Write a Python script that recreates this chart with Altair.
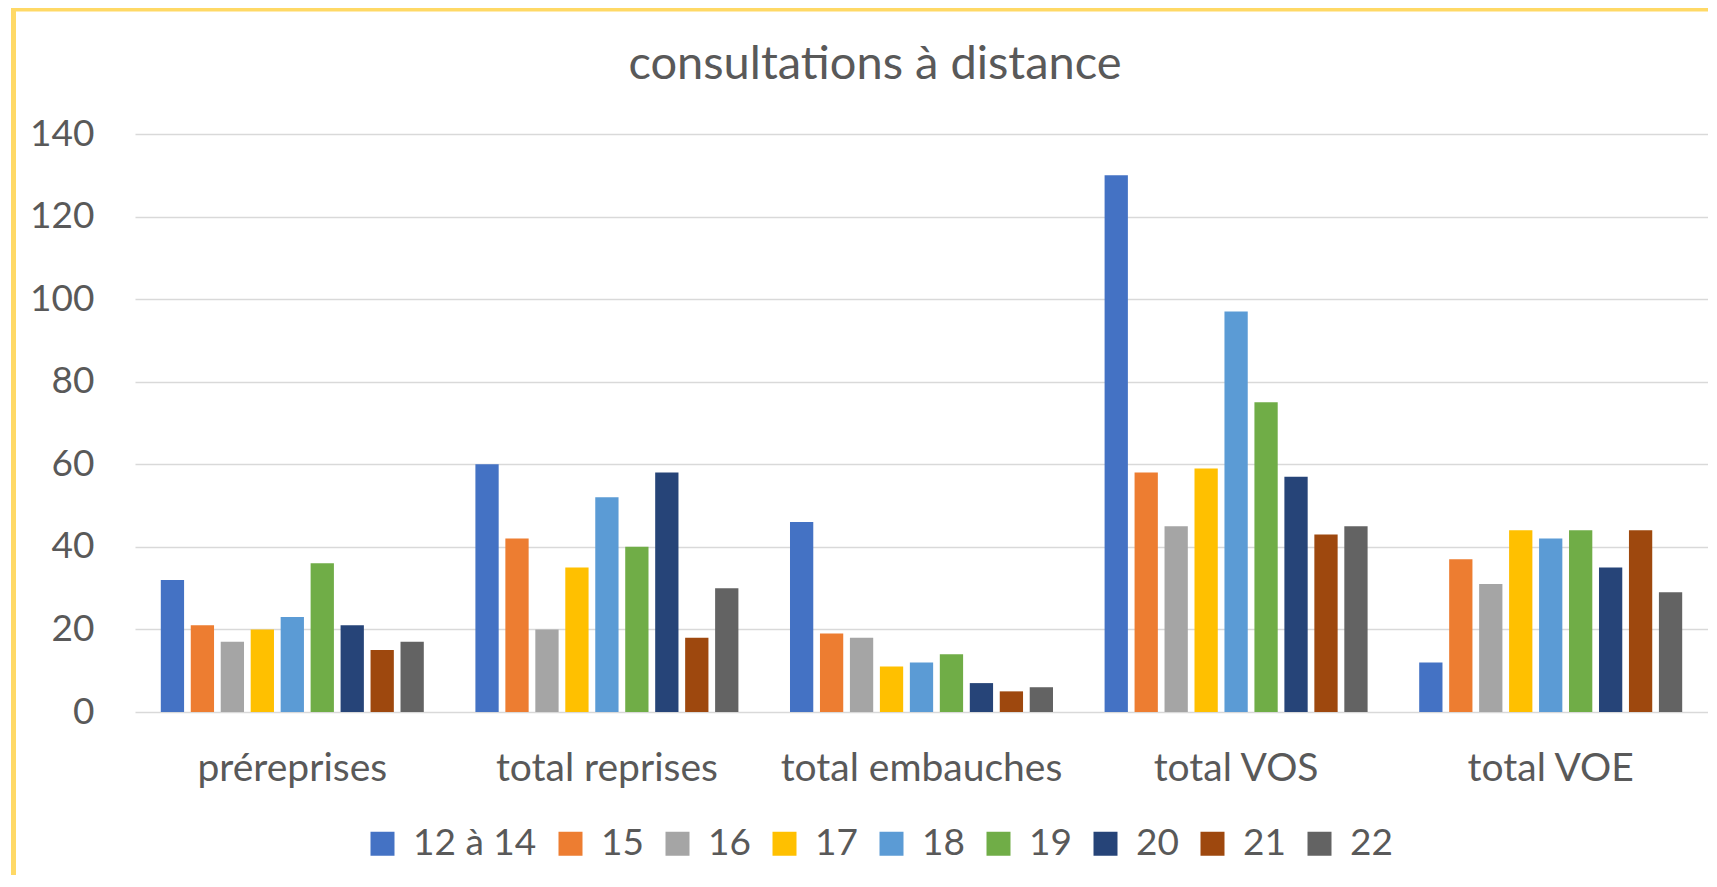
import altair as alt
import pandas as pd

categories = ["préreprises", "total reprises", "total embauches", "total VOS", "total VOE"]
series = ["12 à 14", "15", "16", "17", "18", "19", "20", "21", "22"]
colors = ["#4472C4", "#ED7D31", "#A5A5A5", "#FFC000", "#5B9BD5", "#70AD47", "#264478", "#9E480E", "#636363"]

v_prereprises = [32, 21, 17, 20, 23, 36, 21, 15, 17]
v_reprises = [60, 42, 20, 35, 52, 40, 58, 18, 30]
v_embauches = [46, 19, 18, 11, 12, 14, 7, 5, 6]
v_vos = [130, 58, 45, 59, 97, 75, 57, 43, 45]
v_voe = [12, 37, 31, 44, 42, 44, 35, 44, 29]
y_ticks = [0, 20, 40, 60, 80, 100, 120, 140]
chart_title = "consultations à distance"

rows = []
for cat, vals in zip(categories, [v_prereprises, v_reprises, v_embauches, v_vos, v_voe]):
    for s, v in zip(series, vals):
        rows.append({"category": cat, "series": s, "value": v})
df = pd.DataFrame(rows)

FONT = "Lato"
TXT = "#595959"
GRID = "#D9D9D9"

bars = alt.Chart(df).mark_bar().encode(
    x=alt.X("category:N", sort=categories,
            scale=alt.Scale(paddingInner=0.164, paddingOuter=0.082),
            axis=alt.Axis(title=None, labelAngle=0, domain=False, ticks=False,
                          labelFont=FONT, labelFontSize=39, labelColor=TXT,
                          labelLimit=0,
                          labelBaseline="alphabetic", labelPadding=68)),
    xOffset=alt.XOffset("series:N", sort=series,
                        scale=alt.Scale(paddingInner=0.223, paddingOuter=0)),
    y=alt.Y("value:Q", scale=alt.Scale(domain=[0, 140], nice=False),
            axis=alt.Axis(title=None, values=y_ticks, domain=False, ticks=False,
                          gridColor=GRID, gridWidth=1.5,
                          labelFont=FONT, labelFontSize=37, labelColor=TXT,
                          labelPadding=41)),
    color=alt.Color("series:N", sort=series,
                    scale=alt.Scale(domain=series, range=colors),
                    legend=alt.Legend(title=None, orient="none", legendX=229, legendY=691,
                                      direction="horizontal", columns=9,
                                      symbolType="square", symbolSize=576,
                                      symbolStrokeWidth=0,
                                      labelFont=FONT, labelFontSize=37, labelColor=TXT,
                                      labelOffset=12, columnPadding=15)),
)

one = alt.Data(values=[{"t": chart_title}])
title_mark = alt.Chart(one).mark_text(
    font=FONT, fontSize=47, color=TXT, align="center", baseline="alphabetic"
).encode(x=alt.value(740), y=alt.value(-55), text="t:N")

left_border = alt.Chart(one).mark_rule(color="#FFD966", strokeWidth=5).encode(
    x=alt.value(-121.5), y=alt.value(-127.5), y2=alt.value(760)
)
top_border = alt.Chart(one).mark_rule(color="#FFD966", strokeWidth=5).encode(
    x=alt.value(-124), x2=alt.value(1600), y=alt.value(-125)
)

chart = alt.layer(bars, title_mark, left_border, top_border).properties(
    width=1573, height=578,
    autosize=alt.AutoSizeParams(type="none"),
    padding={"left": 127, "top": 126, "right": 0, "bottom": 163},
).configure_view(stroke=None)

chart.save("out.html", embed_options={"renderer": "svg", "actions": False})
